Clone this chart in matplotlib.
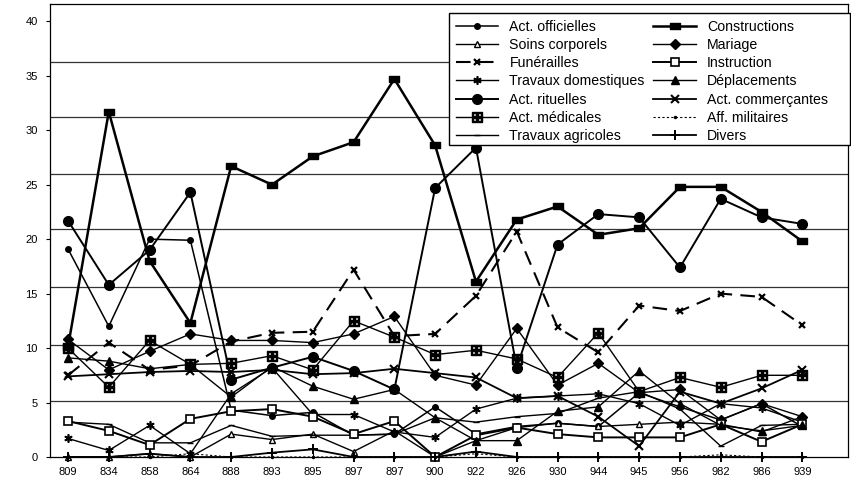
import matplotlib
matplotlib.use('Agg')
import matplotlib.pyplot as plt
from matplotlib.patches import Rectangle

# x labels as printed under the axis (two "897" in the source)
years = ['809', '834', '858', '864', '888', '893', '895', '897', '897', '900',
         '922', '926', '930', '944', '945', '956', '982', '986', '939']

act_officielles = [19.1, 12.0, 20.0, 19.9, 4.3, 3.8, 4.1, 2.0, 2.1, 4.6, 2.1, 2.8, 3.1, 2.8, 5.9, 4.6, 3.4, 4.9, 2.8]
soins_corporels = [0.0, 0.0, 0.3, 0.0, 2.1, 1.6, 2.1, 0.5, 2.4, 0.0, 1.5, 2.7, 3.1, 2.8, 3.0, 3.2, 3.0, 2.3, 3.7]
funerailles = [7.5, 10.5, 8.0, 8.4, 10.6, 11.4, 11.5, 17.2, 11.1, 11.3, 14.8, 20.7, 11.9, 9.6, 13.9, 13.4, 15.0, 14.7, 12.1]
trav_domestiques = [1.7, 0.6, 2.9, 0.3, 5.8, 8.2, 3.9, 3.9, 2.3, 1.8, 4.4, 5.4, 5.6, 5.8, 4.9, 2.9, 4.9, 4.5, 3.2]
act_rituelles = [21.7, 15.8, 19.0, 24.3, 7.1, 8.2, 9.2, 7.9, 6.2, 24.7, 28.4, 8.2, 19.5, 22.3, 22.0, 17.4, 23.7, 22.0, 21.4]
act_medicales = [10.0, 6.4, 10.7, 8.5, 8.6, 9.3, 8.0, 12.5, 11.0, 9.4, 9.8, 9.0, 7.3, 11.4, 6.0, 7.3, 6.4, 7.5, 7.5]
trav_agricoles = [3.2, 3.0, 1.3, 1.3, 2.9, 1.9, 2.0, 2.0, 2.1, 3.6, 3.2, 3.7, 4.0, 5.4, 6.0, 4.4, 1.0, 2.9, 3.0]
constructions = [10.1, 31.7, 18.0, 12.3, 26.7, 25.0, 27.6, 28.9, 34.7, 28.6, 16.1, 21.8, 23.0, 20.4, 21.0, 24.8, 24.8, 22.5, 19.8]
mariage = [10.8, 8.0, 9.7, 11.3, 10.7, 10.7, 10.5, 11.3, 12.9, 7.5, 6.6, 11.8, 6.6, 8.6, 5.9, 6.2, 3.4, 4.9, 3.7]
instruction = [3.3, 2.4, 1.1, 3.5, 4.2, 4.4, 3.7, 2.1, 3.3, 0.0, 2.0, 2.7, 2.1, 1.8, 1.8, 1.8, 3.0, 1.4, 3.0]
deplacements = [9.1, 8.8, 8.1, 8.5, 5.5, 8.3, 6.5, 5.3, 6.2, 3.6, 1.5, 1.5, 4.2, 4.6, 7.9, 4.9, 2.9, 2.4, 2.9]
act_commercantes = [7.4, 7.6, 7.8, 7.9, 7.8, 8.0, 7.6, 7.7, 8.1, 7.7, 7.3, 5.4, 5.6, 3.7, 1.0, 6.0, 4.9, 6.3, 8.0]
aff_militaires = [0.0, 0.0, 0.0, 0.3, 0.0, 0.0, 0.0, 0.0, 0.0, 0.0, 0.3, 0.0, 0.0, 0.0, 0.0, 0.0, 0.2, 0.0, 0.0]
divers = [0.0, 0.0, 0.3, 0.0, 0.0, 0.4, 0.7, 0.0, 0.0, 0.0, 0.5, 0.0, 0.0, 0.0, 0.0, 0.0, 0.0, 0.0, 0.0]

plt.rcParams['font.family'] = ['Liberation Sans', 'DejaVu Sans']

fig = plt.figure(figsize=(8.51, 4.84), dpi=100)
ax = fig.add_axes([0.0588, 0.0558, 0.9377, 0.9362])

x = list(range(len(years)))
k = 'black'

# the scanned grid is slightly off the tick values
for g in [5.1, 10.3, 15.6, 20.9, 26.0, 31.2, 36.3]:
    ax.axhline(g, color='#333333', lw=0.9, zorder=1)

# wide block marker for Constructions
block = [(-1.4, -0.75), (1.4, -0.75), (1.4, 0.75), (-1.4, 0.75), (-1.4, -0.75)]

series = [
    ('Act. officielles', act_officielles, dict(marker='o', ms=4, lw=1.1)),
    ('Soins corporels', soins_corporels, dict(marker='^', ms=5, mfc='white', lw=1.0)),
    ('Funérailles', funerailles, dict(marker='x', ms=5, mew=1.6, lw=1.5, dashes=(7, 4))),
    ('Travaux domestiques', trav_domestiques, dict(marker=(6, 2, 0), ms=6, mew=1.2, lw=1.0)),
    ('Act. rituelles', act_rituelles, dict(marker='o', ms=7, lw=1.4)),
    ('Act. médicales', act_medicales, dict(marker='$\\boxplus$', ms=7, lw=1.0)),
    ('Travaux agricoles', trav_agricoles, dict(marker='_', ms=5, lw=1.0)),
    ('Constructions', constructions, dict(marker=block, ms=7.5, lw=1.8)),
    ('Mariage', mariage, dict(marker='D', ms=5, lw=1.0)),
    ('Instruction', instruction, dict(marker='s', ms=5.5, mfc='white', mew=1.2, lw=1.4)),
    ('Déplacements', deplacements, dict(marker='^', ms=5.5, lw=1.0)),
    ('Act. commerçantes', act_commercantes, dict(marker='x', ms=6, mew=1.5, lw=1.3)),
    ('Aff. militaires', aff_militaires, dict(marker='.', ms=3, lw=0.8, dashes=(2, 2))),
    ('Divers', divers, dict(marker='+', ms=7, mew=1.4, lw=1.3)),
]

for name, vals, st in series:
    ax.plot(x, vals, color=k, mfc=st.pop('mfc', k), mec=k, label=name,
            clip_on=False, zorder=3, **st)

ax.set_xlim(-0.44, 19.12)
ax.set_ylim(0, 41.6)
ax.set_yticks(range(0, 41, 5))
ax.set_xticks(x)
ax.set_xticklabels(years)
ax.tick_params(axis='y', direction='out', length=3, labelsize=8, pad=6)
ax.tick_params(axis='x', direction='in', length=3, labelsize=8, pad=7)
for s in ax.spines.values():
    s.set_linewidth(0.9)

# legend box in the scan is wider than its text, so draw the frame separately
box = Rectangle((449 / 851, 1 - 145 / 484), 401 / 851, 132 / 484,
                transform=fig.transFigure, facecolor='white', edgecolor='black',
                lw=1.0, clip_on=False, zorder=4.5)
ax.add_patch(box)

leg = ax.legend(ncol=2, loc='upper left', bbox_to_anchor=(0.4994, 0.981),
                bbox_transform=ax.transAxes, fontsize=10.2, frameon=False,
                handlelength=3.0, labelspacing=0.3, columnspacing=0.6,
                handletextpad=0.8, borderpad=0.5, borderaxespad=0)
leg.set_zorder(5)

fig.savefig('out.png', dpi=100)
